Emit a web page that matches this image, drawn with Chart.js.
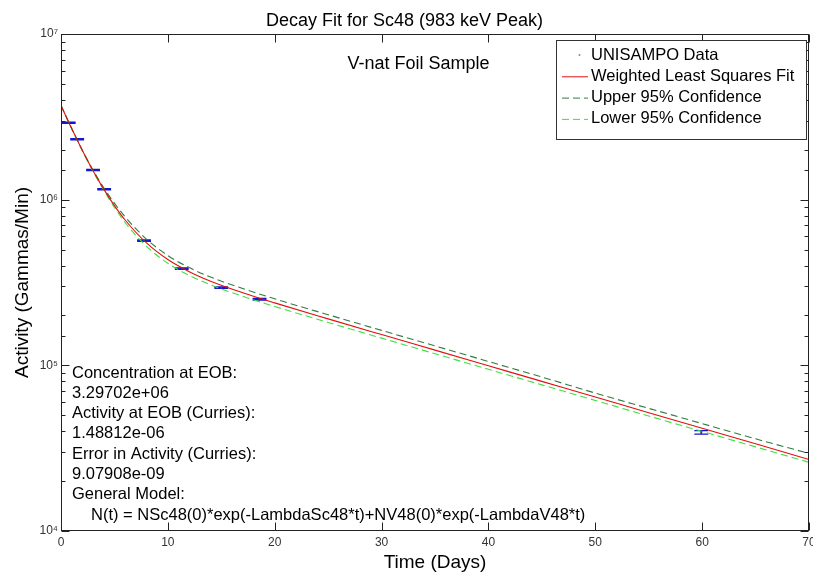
<!DOCTYPE html>
<html><head><meta charset="utf-8">
<script src="https://cdn.jsdelivr.net/npm/chart.js@4.4.1/dist/chart.umd.min.js"></script>
<style>html,body{margin:0;padding:0;background:#fff;overflow:hidden}</style>
</head><body>
<canvas id="c" width="813" height="575"></canvas>
<script>
// ---- data ----
const dataDays     = [0.72, 1.51, 3.0, 4.04, 7.77, 11.3, 15.0, 18.58, 59.92];
const dataActivity = [2.915e6, 2.314e6, 1.511e6, 1.156e6, 5.656e5, 3.833e5, 2.944e5, 2.506e5, 3.94e4];
const dataError    = [2.0e4, 1.6e4, 1.1e4, 8.5e3, 5.5e3, 3.8e3, 2.9e3, 2.5e3, 9.5e2];

const fitDays       = [0, 1, 2, 3, 4, 5, 6, 8, 10, 12, 14, 17, 20, 25, 30, 35, 40, 45, 50, 55, 60, 65, 70];
const fitActivity   = [3.70e6, 2.685e6, 1.983e6, 1.496e6, 1.158e6, 9.21e5, 7.54e5, 5.48e5, 4.35e5, 3.675e5, 3.22e5, 2.745e5, 2.383e5, 1.908e5, 1.534e5, 1.235e5, 9.94e4, 8.00e4, 6.44e4, 5.18e4, 4.17e4, 3.36e4, 2.70e4];
const upperActivity = [3.70e6, 2.69e6, 1.99e6, 1.51e6, 1.18e6, 9.53e5, 7.88e5, 5.78e5, 4.60e5, 3.89e5, 3.41e5, 2.91e5, 2.52e5, 2.02e5, 1.625e5, 1.31e5, 1.055e5, 8.5e4, 6.80e4, 5.50e4, 4.45e4, 3.60e4, 2.94e4];
const lowerActivity = [3.70e6, 2.68e6, 1.97e6, 1.48e6, 1.14e6, 8.98e5, 7.28e5, 5.23e5, 4.13e5, 3.49e5, 3.06e5, 2.61e5, 2.265e5, 1.815e5, 1.46e5, 1.175e5, 9.46e4, 7.62e4, 6.14e4, 4.94e4, 3.99e4, 3.22e4, 2.60e4];

const seriesLabels = ['UNISAMPO Data', 'Weighted Least Squares Fit', 'Upper 95% Confidence', 'Lower 95% Confidence'];
const xTickStep = 10;
const yDecadeLabels = {4: '10\u2074', 5: '10\u2075', 6: '10\u2076', 7: '10\u2077'};
const titleText = 'Decay Fit for Sc48 (983 keV Peak)';
const xTitle = 'Time (Days)';
const yTitle = 'Activity (Gammas/Min)';
const sampleText = 'V-nat Foil Sample';
const infoLines = [
  'Concentration at EOB:',
  '3.29702e+06',
  'Activity at EOB (Curries):',
  '1.48812e-06',
  'Error in Activity (Curries):',
  '9.07908e-09',
  'General Model:',
  'N(t) = NSc48(0)*exp(-LambdaSc48*t)+NV48(0)*exp(-LambdaV48*t)'
];

// ---- styles ----
const FONT = '"Liberation Sans", Arial, Helvetica, sans-serif';
const RED = '#e01010', DKGREEN = '#2f7d3f', LTGREEN = '#3fe03f', BLUE = '#1515d0';
const CAP_HALF_DAYS = 0.65;

const toXY = (xs, ys) => xs.map((x, i) => ({x: x, y: ys[i]}));

const decoPlugin = {
  id: 'deco',
  beforeDatasetsDraw(chart) {
    const ctx = chart.ctx, xs = chart.scales.x, ys = chart.scales.y;
    ctx.save();
    ctx.strokeStyle = BLUE; ctx.lineWidth = 1.4;
    dataDays.forEach((d, i) => {
      const x = xs.getPixelForValue(d);
      const yt = ys.getPixelForValue(dataActivity[i] + dataError[i]);
      const yb = ys.getPixelForValue(dataActivity[i] - dataError[i]);
      const xl = xs.getPixelForValue(d - CAP_HALF_DAYS), xr = xs.getPixelForValue(d + CAP_HALF_DAYS);
      ctx.beginPath();
      ctx.moveTo(x, yt); ctx.lineTo(x, yb);
      ctx.moveTo(xl, yt); ctx.lineTo(xr, yt);
      ctx.moveTo(xl, yb); ctx.lineTo(xr, yb);
      ctx.stroke();
    });
    ctx.restore();
  },
  afterDraw(chart) {
    const ctx = chart.ctx, a = chart.chartArea, xs = chart.scales.x, ys = chart.scales.y;
    ctx.save();
    // frame
    ctx.strokeStyle = '#222'; ctx.lineWidth = 1;
    const L = Math.round(a.left) + 0.5, R = Math.round(a.right) - 0.5, T = Math.round(a.top) + 0.5, B = Math.round(a.bottom) - 0.5;
    ctx.strokeRect(L, T, R - L, B - T);
    // x ticks (bottom & top, inward)
    ctx.beginPath();
    xs.ticks.forEach(t => {
      const x = Math.round(xs.getPixelForValue(t.value)) + 0.5;
      ctx.moveTo(x, B); ctx.lineTo(x, B - 8);
      ctx.moveTo(x, T); ctx.lineTo(x, T + 8);
    });
    // y ticks (left & right, inward)
    ys.ticks.forEach(t => {
      const y = Math.round(ys.getPixelForValue(t.value)) + 0.5;
      const lg = Math.log10(t.value);
      const len = Math.abs(lg - Math.round(lg)) < 1e-9 ? 8 : 4;
      ctx.moveTo(L, y); ctx.lineTo(L + len, y);
      ctx.moveTo(R, y); ctx.lineTo(R - len, y);
    });
    ctx.stroke();

    // sample annotation
    ctx.fillStyle = '#000';
    ctx.textBaseline = 'middle';
    ctx.textAlign = 'center';
    ctx.font = '18px ' + FONT;
    ctx.fillText(sampleText, a.left + (a.right - a.left) * 0.478, a.top + 30);

    // info text block
    ctx.textAlign = 'left';
    ctx.font = '16.5px ' + FONT;
    infoLines.forEach((s, i) => {
      const indent = i === infoLines.length - 1 ? 19 : 0;
      ctx.fillText(s, a.left + 11 + indent, a.bottom - 158 + i * 20.3);
    });

    // legend
    const lw = 250, lh = 99;
    const lx = Math.round(a.right) - 3 - lw, ly = Math.round(a.top) + 6;
    ctx.fillStyle = '#fff';
    ctx.fillRect(lx, ly, lw, lh);
    ctx.strokeStyle = '#333'; ctx.lineWidth = 1;
    ctx.strokeRect(lx + 0.5, ly + 0.5, lw, lh);
    const dsets = chart.data.datasets;
    ctx.font = '16.5px ' + FONT;
    dsets.forEach((ds, i) => {
      const cy = ly + 15 + i * 21.3;
      if (i === 0) {
        ctx.fillStyle = '#888';
        ctx.beginPath(); ctx.arc(lx + 23.5, cy, 1, 0, Math.PI * 2); ctx.fill();
      } else {
        ctx.strokeStyle = ds.borderColor; ctx.lineWidth = 1;
        ctx.setLineDash(ds.borderDash || []);
        ctx.beginPath(); ctx.moveTo(lx + 6, cy + 0.5); ctx.lineTo(lx + 32, cy + 0.5); ctx.stroke();
        ctx.setLineDash([]);
      }
      ctx.fillStyle = '#000';
      ctx.fillText(ds.label, lx + 35, cy);
    });
    ctx.restore();
  }
};

new Chart(document.getElementById('c'), {
  type: 'line',
  data: {
    datasets: [
      { label: seriesLabels[0], data: toXY(dataDays, dataActivity), showLine: false,
        pointRadius: 1, pointBackgroundColor: '#444', pointBorderWidth: 0, borderColor: '#444' },
      { label: seriesLabels[1], data: toXY(fitDays, fitActivity), borderColor: RED, borderWidth: 1.1,
        pointRadius: 0, cubicInterpolationMode: 'monotone', fill: false },
      { label: seriesLabels[2], data: toXY(fitDays, upperActivity), borderColor: DKGREEN, borderWidth: 1.1,
        borderDash: [7, 4], pointRadius: 0, cubicInterpolationMode: 'monotone', fill: false },
      { label: seriesLabels[3], data: toXY(fitDays, lowerActivity), borderColor: LTGREEN, borderWidth: 1.1,
        borderDash: [7, 4], pointRadius: 0, cubicInterpolationMode: 'monotone', fill: false }
    ]
  },
  options: {
    responsive: false,
    animation: false,
    devicePixelRatio: 1,
    layout: { padding: { left: 0, right: 4, top: 0, bottom: 0 } },
    plugins: {
      legend: { display: false },
      tooltip: { enabled: false },
      title: { display: true, text: titleText, color: '#000',
        font: { family: FONT, size: 18, weight: 'normal' }, padding: { top: 10, bottom: 2.4 } }
    },
    scales: {
      x: {
        type: 'linear', min: 0, max: 70,
        grid: { display: false, drawTicks: false },
        border: { display: false },
        ticks: { stepSize: xTickStep, color: '#333', padding: 4, maxRotation: 0, autoSkip: false,
          font: { family: FONT, size: 12 } },
        title: { display: true, text: xTitle, color: '#000', font: { family: FONT, size: 19 },
          padding: { top: 0, bottom: 1 } },
        afterFit(s) { s.height = 44; s.paddingLeft = 0; s.paddingRight = 0; }
      },
      y: {
        type: 'logarithmic', min: 1e4, max: 1e7,
        grid: { display: false, drawTicks: false },
        border: { display: false },
        ticks: { color: '#333', padding: 3, autoSkip: false, font: { family: FONT, size: 12 },
          callback(v) {
            const lg = Math.log10(v);
            const r = Math.round(lg);
            return Math.abs(lg - r) < 1e-9 ? (yDecadeLabels[r] || '') : '';
          } },
        title: { display: true, text: yTitle, color: '#000', font: { family: FONT, size: 19 },
          padding: { top: 11, bottom: 0 } },
        afterFit(s) { s.width = 61; s.paddingTop = 0; s.paddingBottom = 0; }
      }
    }
  },
  plugins: [decoPlugin]
});
</script>
</body></html>
